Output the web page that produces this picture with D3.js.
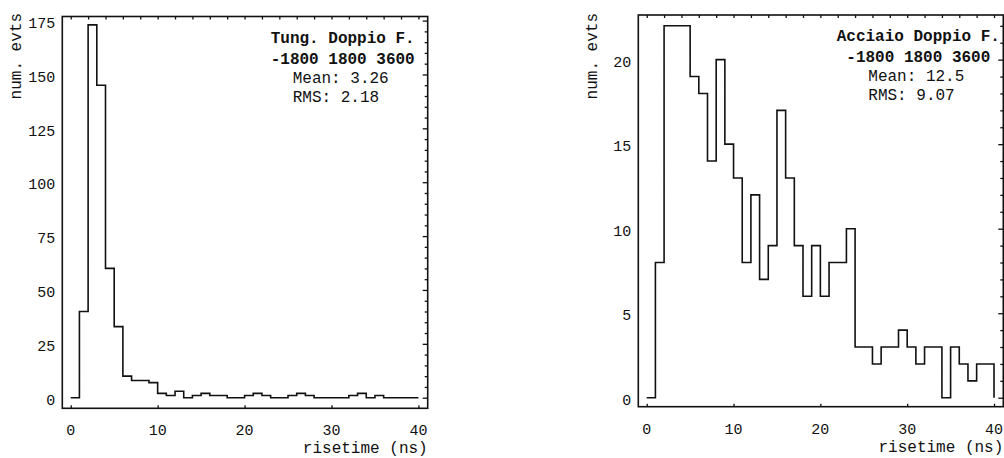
<!DOCTYPE html>
<html>
<head>
<meta charset="utf-8">
<script src="https://cdn.jsdelivr.net/npm/d3@7"></script>
<style>
  html, body { margin: 0; padding: 0; background: #fff; }
  svg { display: block; }
  text { font-family: "Liberation Mono", "DejaVu Sans Mono", monospace; fill: #111; }
  .frame { fill: none; stroke: #111; stroke-width: 1.6; }
  .hist { fill: none; stroke: #111; stroke-width: 1.6; }
  .tk line { stroke: #111; stroke-width: 1.3; }
  .tk path { display: none; }
</style>
</head>
<body>
<div id="chart"></div>
<script>
// counts per 1 ns bin, 0..40 ns
const binWidth = 1;
const tungCounts = [0, 40, 173, 145, 60, 33, 10, 8, 8, 7,
                    2, 1, 3, 0, 1, 2, 1, 1, 0, 0,
                    1, 2, 1, 0, 0, 1, 2, 1, 0, 0,
                    0, 0, 1, 2, 0, 1, 0, 0, 0, 0];
const acciaioCounts = [0, 8, 22, 22, 22, 19, 18, 14, 20, 15,
                       13, 8, 12, 7, 9, 17, 13, 9, 6, 9,
                       6, 8, 8, 10, 3, 3, 2, 3, 3, 4,
                       3, 2, 3, 3, 0, 3, 2, 1, 2, 2];

const xTicks = [0, 10, 20, 30, 40];
const tungYTicks = [0, 25, 50, 75, 100, 125, 150, 175];
const acciaioYTicks = [0, 5, 10, 15, 20];

const tungLabel = ["Tung. Doppio F.", "-1800 1800 3600"];
const tungStats = ["Mean: 3.26", "RMS: 2.18"];
const acciaioLabel = ["Acciaio Doppio F.", "-1800 1800 3600"];
const acciaioStats = ["Mean: 12.5", "RMS: 9.07"];

const xLabel = "risetime (ns)";
const yLabel = "num. evts";

const width = 1004, height = 458;

const svg = d3.select("#chart").append("svg")
  .attr("width", width)
  .attr("height", height);

const panels = [
  { left: 62.3, top: 16.5, right: 427.7, bottom: 408.3,
    yDomain: [-4.92, 176.9], counts: tungCounts, yTicks: tungYTicks,
    yMinor: 5, label: tungLabel, stats: tungStats },
  { left: 638.3, top: 15, right: 1003.3, bottom: 406.7,
    yDomain: [-0.53, 22.64], counts: acciaioCounts, yTicks: acciaioYTicks,
    yMinor: 1, label: acciaioLabel, stats: acciaioStats }
];

panels.forEach(p => {
  const g = svg.append("g");

  const x = d3.scaleLinear()
    .domain([-0.97, 41.07])
    .range([p.left, p.right]);

  const y = d3.scaleLinear()
    .domain(p.yDomain)
    .range([p.bottom, p.top]);

  // histogram outline
  const pts = p.counts.map((c, i) => [i * binWidth, c]);
  pts.push([p.counts.length * binWidth, 0]);

  const line = d3.line()
    .x(d => x(d[0]))
    .y(d => y(d[1]))
    .curve(d3.curveStepAfter);

  g.append("path")
    .attr("class", "hist")
    .attr("d", line(pts));

  // inward ticks
  const xMinor = d3.range(0, 41, 2);
  g.append("g").attr("class", "tk")
    .attr("transform", `translate(0,${p.top})`)
    .call(d3.axisTop(x).tickValues(xMinor).tickSize(-3).tickFormat(""));
  g.append("g").attr("class", "tk")
    .attr("transform", `translate(0,${p.bottom})`)
    .call(d3.axisBottom(x).tickValues(xTicks).tickSize(-3).tickFormat(""));

  const yMax = p.yTicks[p.yTicks.length - 1];
  const yMinorVals = d3.range(0, p.yDomain[1], p.yMinor).filter(v => !p.yTicks.includes(v));
  g.append("g").attr("class", "tk")
    .attr("transform", `translate(${p.right},0)`)
    .call(d3.axisRight(y).tickValues(yMinorVals).tickSize(-3).tickFormat(""));
  g.append("g").attr("class", "tk")
    .attr("transform", `translate(${p.right},0)`)
    .call(d3.axisRight(y).tickValues(p.yTicks).tickSize(-5).tickFormat(""));

  g.append("rect")
    .attr("class", "frame")
    .attr("x", p.left)
    .attr("y", p.top)
    .attr("width", p.right - p.left)
    .attr("height", p.bottom - p.top);

  // tick labels
  g.selectAll("text.xt")
    .data(xTicks)
    .enter().append("text")
    .attr("class", "xt")
    .attr("x", d => x(d))
    .attr("y", p.bottom + 27)
    .attr("text-anchor", "middle")
    .style("font-size", "15px")
    .text(d => d);

  g.selectAll("text.yt")
    .data(p.yTicks)
    .enter().append("text")
    .attr("class", "yt")
    .attr("x", p.left - 7)
    .attr("y", d => y(d) + 2)
    .attr("dy", "0.35em")
    .attr("text-anchor", "end")
    .style("font-size", "15px")
    .text(d => d);

  // axis titles
  g.append("text")
    .attr("x", p.right)
    .attr("y", p.bottom + 45)
    .attr("text-anchor", "end")
    .style("font-size", "16px")
    .text(xLabel);

  g.append("text")
    .attr("transform", `translate(${p.left - 41},13) rotate(-90)`)
    .attr("text-anchor", "end")
    .style("font-size", "16px")
    .text(yLabel);

  // legend box text
  g.selectAll("text.lab")
    .data(p.label)
    .enter().append("text")
    .attr("class", "lab")
    .attr("x", p.right - 85)
    .attr("y", (d, i) => p.top + 26 + i * 21)
    .attr("text-anchor", "middle")
    .style("font-size", "16px")
    .style("font-weight", "bold")
    .text(d => d);

  g.selectAll("text.st")
    .data(p.stats)
    .enter().append("text")
    .attr("class", "st")
    .attr("x", p.right - 135)
    .attr("y", (d, i) => p.top + 66 + i * 19)
    .style("font-size", "16px")
    .text(d => d);
});
</script>
</body>
</html>
